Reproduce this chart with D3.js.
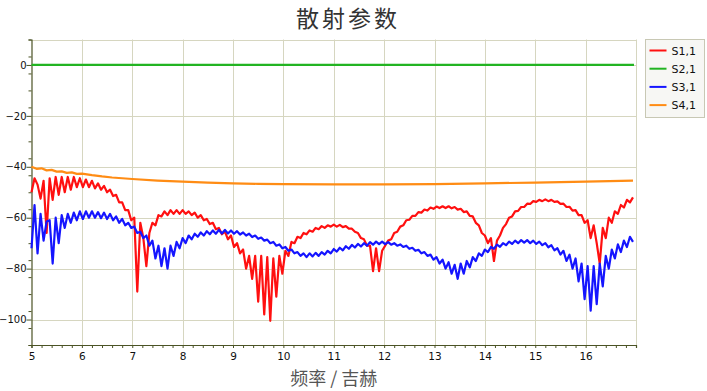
<!DOCTYPE html>
<html>
<head>
<meta charset="utf-8">
<script src="https://cdn.jsdelivr.net/npm/d3@7/dist/d3.min.js"></script>
<style>
  body { margin: 0; background: #fff; }
  text { font-family: "DejaVu Sans", Verdana, sans-serif; }
</style>
</head>
<body>
<script>
// series names + colours
const seriesNames = ["S1,1", "S2,1", "S3,1", "S4,1"];
const seriesColors = ["#ff1010", "#22b422", "#1515ff", "#ff8c14"];

// sweep: 5 GHz, 0.06 GHz steps, 200 points
const freq = d3.range(200).map(i => +(5 + i * 0.06).toFixed(2));

// S1,1 (dB)
const s11 = [
  -50, -44.5, -47, -52.5, -45.5, -66, -44.5, -53, -44, -51,
  -44, -50, -44, -49, -44, -48, -44.5, -48, -45, -48,
  -45.5, -48.5, -46.5, -49, -47.5, -50, -49, -51.5, -51, -54,
  -54, -57, -57, -61, -60, -89, -62, -68, -79, -66,
  -62, -63, -59, -59.5, -57.5, -59, -57, -58.5, -57, -58.5,
  -57, -58.5, -57.5, -59, -58, -60, -59, -61, -60.5, -62.5,
  -62, -64.5, -64, -66.5, -65.5, -68.5, -67, -71.5, -70, -74,
  -72.5, -80, -75, -84, -75, -93, -75, -98, -75.5, -100.5,
  -76, -91, -75, -82, -73, -75, -69.5, -70, -67.5, -68,
  -66, -66.5, -65, -65.5, -64, -64.5, -63.3, -64, -63, -63.5,
  -62.7, -63.5, -62.8, -63.7, -63.3, -64.3, -64.3, -65.5, -66, -68,
  -68.5, -71, -71, -81, -72, -81, -73, -71, -69, -68.5,
  -66, -65.5, -63.5, -63, -61, -60.8, -59.3, -59.3, -57.8, -58,
  -56.8, -57.2, -56, -56.5, -55.6, -56.2, -55.5, -56.2, -55.5, -56.3,
  -55.8, -56.8, -56.5, -57.8, -57.5, -59.3, -59.5, -62, -63, -66,
  -67, -70, -68, -77, -69, -67, -64, -62.5, -60, -59.5,
  -57.5, -57.3, -55.8, -55.8, -54.5, -54.6, -53.5, -53.8, -53, -53.5,
  -52.8, -53.5, -53, -53.8, -53.6, -54.6, -54.5, -55.8, -55.7, -57.2,
  -57, -59, -59, -62, -61, -68, -63, -70, -78, -64,
  -68, -60, -62, -57.5, -58.5, -55, -56, -53, -54, -52
];

// S3,1 (dB)
const s31 = [
  -72, -55, -74, -58.5, -69, -61.5, -61, -78, -60, -70,
  -59, -64, -58.5, -62, -58, -61, -57.5, -60.5, -57.5, -60,
  -57.5, -60, -57.8, -60.2, -58, -60.5, -58.5, -61, -59.5, -62,
  -60.5, -63, -62, -64, -63.5, -66, -65.5, -68, -67, -71,
  -69, -76, -71, -79, -72, -80, -71, -75, -69.5, -72,
  -68, -70, -67, -68.5, -66.3, -67.5, -65.8, -67, -65.3, -66.5,
  -65, -66.3, -64.8, -66.2, -64.8, -66.2, -65, -66.3, -65.3, -66.6,
  -65.8, -67, -66.3, -67.6, -67, -68.3, -67.8, -69, -68.6, -70,
  -69.5, -71, -70.5, -72, -71.5, -73, -72.5, -74, -73.5, -75,
  -74, -75.5, -74, -75.2, -73.8, -75, -73.5, -74.5, -73, -74,
  -72.3, -73.3, -71.8, -72.8, -71.2, -72.2, -70.7, -71.7, -70.3, -71.3,
  -70, -71, -69.6, -70.6, -69.4, -70.4, -69.4, -70.4, -69.6, -70.6,
  -70, -71, -70.5, -71.5, -71, -72.2, -71.8, -73, -72.6, -74,
  -73.5, -75, -74.5, -76.5, -75.5, -78, -76.5, -80, -77.5, -82,
  -78.5, -84, -78, -82, -77, -79.5, -75.5, -77, -74, -75,
  -72.5, -73.5, -71.5, -72.2, -70.6, -71.4, -70, -70.8, -69.4, -70.3,
  -69, -70, -68.8, -69.8, -68.8, -70, -69, -70.3, -69.4, -70.8,
  -70, -71.6, -70.8, -72.8, -72, -74.5, -73, -77, -74.5, -80,
  -76, -85, -78, -92, -79, -96.5, -79, -94, -78, -87,
  -75, -80, -72.5, -76, -70.5, -73.5, -69, -71.5, -67.5, -69.5
];

// S2,1 and S4,1 as [GHz, dB]
const s21 = [[5, 0], [16.96, 0]];
const s41 = [
  [5.0, -40], [5.1, -40.8], [5.2, -40.6], [5.3, -41.4], [5.4, -41.2],
  [5.5, -41.9], [5.6, -41.8], [5.7, -42.4], [5.8, -42.2], [5.9, -42.8],
  [6.0, -42.7], [6.2, -43.3], [6.4, -43.8], [6.6, -44.2], [6.8, -44.5],
  [7.0, -44.8], [7.5, -45.4], [8.0, -45.8], [8.5, -46.2], [9.0, -46.5],
  [9.5, -46.7], [10.0, -46.8], [11.0, -46.9], [12.0, -46.9], [13.0, -46.8],
  [14.0, -46.5], [15.0, -46.2], [16.0, -45.8], [16.94, -45.4]
];

const xMajor = d3.range(5, 17, 1);
const yMajor = [0, -20, -40, -60, -80, -100];

const W = 707, H = 391;
const pLeft = 31.5, pRight = 636, pTop = 39.5, pBottom = 345;

const svg = d3.select("body").append("svg")
  .attr("width", W).attr("height", H);

const x = d3.scaleLinear().domain([5, 17]).range([pLeft, pRight]);
const y = d3.scaleLinear().domain([-110, 10]).range([pBottom, pTop]);

// grid
const gridColor = "#d6d6c0";
svg.append("g").selectAll("line").data(xMajor.slice(1).concat([17]))
  .join("line")
  .attr("x1", d => Math.round(x(d)) + 0.5).attr("x2", d => Math.round(x(d)) + 0.5)
  .attr("y1", pTop).attr("y2", pBottom)
  .attr("stroke", gridColor);
svg.append("g").selectAll("line").data(yMajor.concat([10]))
  .join("line")
  .attr("y1", d => Math.round(y(d)) + 0.5).attr("y2", d => Math.round(y(d)) + 0.5)
  .attr("x1", pLeft).attr("x2", pRight)
  .attr("stroke", gridColor);

// axes
const axisColor = "#4b5325";
const xAxis = svg.append("g").attr("transform", `translate(0,${pBottom})`)
  .call(d3.axisBottom(x).tickValues(d3.range(5, 17.01, 0.2)).tickSize(3).tickFormat(""));
const xLab = svg.append("g").attr("transform", `translate(0,${pBottom})`)
  .call(d3.axisBottom(x).tickValues(xMajor).tickSize(0).tickPadding(8).tickFormat(d3.format("d")));
const yAxis = svg.append("g").attr("transform", `translate(${pLeft},0)`)
  .call(d3.axisLeft(y).tickValues(d3.range(-110, 10.01, 20 / 3)).tickSize(3).tickFormat(""));
const yLab = svg.append("g").attr("transform", `translate(${pLeft},0)`)
  .call(d3.axisLeft(y).tickValues(yMajor).tickSize(5).tickPadding(0).tickFormat(d3.format("d")));

[xAxis, xLab, yAxis, yLab].forEach(g => {
  g.selectAll("path").attr("stroke", axisColor).attr("stroke-width", 1.2);
  g.selectAll("line").attr("stroke", axisColor);
  g.selectAll("text").attr("fill", "#101010").style("font-size", "10.5px");
});
yLab.selectAll("text").style("font-size", "10px");
xLab.select("path").remove();
yLab.select("path").remove();

// lines
const line = d3.line().x(d => x(d[0])).y(d => y(d[1]));
const data = [
  freq.map((f, i) => [f, s11[i]]),
  s21,
  freq.map((f, i) => [f, s31[i]]),
  s41
];
const order = [3, 1, 0, 2];
order.forEach(k => {
  svg.append("path")
    .datum(data[k])
    .attr("fill", "none")
    .attr("stroke", seriesColors[k])
    .attr("stroke-width", 2.2)
    .attr("stroke-linejoin", "round")
    .attr("d", line);
});

// titles
svg.append("text")
  .attr("x", 348).attr("y", 27)
  .attr("text-anchor", "middle")
  .attr("fill", "#333")
  .style("font-family", "'Noto Sans CJK SC', sans-serif")
  .style("font-size", "23px")
  .style("letter-spacing", "3px")
  .text("散射参数");

svg.append("text")
  .attr("x", (pLeft + pRight) / 2).attr("y", 385)
  .attr("text-anchor", "middle")
  .attr("fill", "#555")
  .style("font-family", "'Noto Sans CJK SC', sans-serif")
  .style("font-size", "18px")
  .text("频率 / 吉赫");

// legend
const lg = svg.append("g").attr("transform", "translate(645.5,39.5)");
lg.append("rect")
  .attr("width", 59).attr("height", 78)
  .attr("fill", "#f7f7f4").attr("stroke", "#c8c8b4");
seriesNames.forEach((name, i) => {
  const yy = 11 + i * 18.2;
  lg.append("line")
    .attr("x1", 4).attr("x2", 21).attr("y1", yy).attr("y2", yy)
    .attr("stroke", seriesColors[i]).attr("stroke-width", 2);
  lg.append("text")
    .attr("x", 26).attr("y", yy + 4)
    .attr("fill", "#101010")
    .style("font-size", "11px")
    .text(name);
});
</script>
</body>
</html>
